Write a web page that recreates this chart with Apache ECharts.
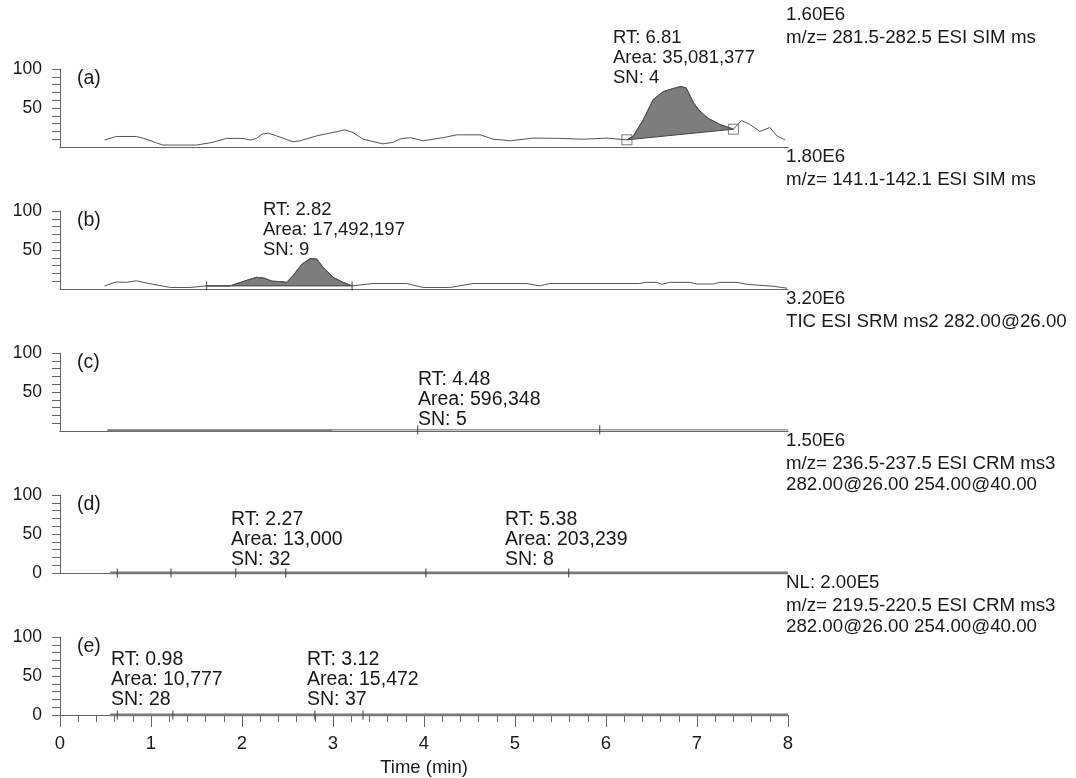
<!DOCTYPE html>
<html>
<head>
<meta charset="utf-8">
<script src="https://cdn.jsdelivr.net/npm/echarts@6/dist/echarts.min.js"></script>
<style>
  html, body { margin: 0; padding: 0; background: #fff; }
  #chart { width: 1076px; height: 778px; }
</style>
</head>
<body>
<div id="chart"></div>
<script>
  // ---- data (time in min, relative abundance in %) ----
  var traceA = [[0.49,9],[0.62,13.5],[0.84,13.5],[0.92,11],[1.13,2.5],[1.50,2.5],[1.68,6],[1.83,11],[2.01,11],
    [2.09,9],[2.16,11],[2.22,16.5],[2.29,17.7],[2.38,14.3],[2.56,6.7],[2.64,8],[2.82,14.3],[3.00,18.6],[3.13,22],
    [3.22,18.6],[3.33,10],[3.55,4],[3.66,6],[3.74,10.5],[3.85,12],[3.99,8],[4.21,12],[4.36,15.6],[4.62,15.6],
    [4.76,10],[4.95,8],[5.20,11.4],[5.49,11],[5.75,10],[6.01,11.4],[6.23,9.2],[6.30,14],[6.41,35],[6.52,61],
    [6.63,71],[6.74,75],[6.82,77.5],[6.88,76],[6.96,57],[7.03,46],[7.12,37],[7.25,29],[7.40,22.8],[7.49,34],
    [7.58,29],[7.69,20],[7.80,25],[7.88,14],[7.97,9]]
  var peakRangeA = [6.23, 7.40]
  var peakEndsA = [[6.23,9.2],[7.40,22.8]]

  var traceB = [[0.49,4],[0.62,9],[0.73,8.5],[0.84,10.5],[0.95,7.7],[1.21,2],[1.43,2],[1.61,4],[1.87,4],[2.01,9.5],
    [2.16,15],[2.25,13.7],[2.33,10],[2.42,9.5],[2.49,8.5],[2.56,17],[2.66,32],[2.75,39],[2.82,38.5],[2.89,28],
    [3.00,15],[3.11,8.5],[3.21,4],[3.44,7],[3.81,7],[3.99,2],[4.29,2],[4.54,7],[5.13,7],[5.27,4],[5.38,7],
    [6.37,7],[6.43,8.5],[6.56,8.5],[6.61,6],[6.70,8.5],[6.92,8.5],[7.00,6.4],[7.18,6.4],[7.25,8.5],[7.44,8.5],
    [7.55,6],[7.66,5],[7.84,3.5],[7.99,1]]
  var peakRangeB = [1.61, 3.21]
  var boundsB = [[1.61,4],[3.21,4]]

  var traceC1 = [[0.52,0.6],[2.99,0.6]]
  var traceC2 = [[2.99,1.5],[8,1.5]]
  var boundsC = [[3.93,1.5],[5.93,1.5]]

  var traceD = [[0.55,0],[8,0]]
  var boundsD = [[0.63,0],[1.22,0],[1.93,0],[2.48,0],[4.02,0],[5.59,0]]

  var traceE = [[0.55,0],[8,0]]
  var boundsE = [[0.63,0],[1.24,0],[2.80,0],[3.33,0]]

  var panelTags = ['(a)', '(b)', '(c)', '(d)', '(e)']
  var scanInfo = [
    ['1.60E6', 'm/z= 281.5-282.5 ESI SIM ms'],
    ['1.80E6', 'm/z= 141.1-142.1 ESI SIM ms'],
    ['3.20E6', 'TIC ESI SRM ms2 282.00@26.00'],
    ['1.50E6', 'm/z= 236.5-237.5 ESI CRM ms3', '282.00@26.00 254.00@40.00'],
    ['NL: 2.00E5', 'm/z= 219.5-220.5 ESI CRM ms3', '282.00@26.00 254.00@40.00']
  ]
  var peakNotes = [
    [['RT: 6.81', 'Area: 35,081,377', 'SN: 4']],
    [['RT: 2.82', 'Area: 17,492,197', 'SN: 9']],
    [['RT: 4.48', 'Area: 596,348', 'SN: 5']],
    [['RT: 2.27', 'Area: 13,000', 'SN: 32'], ['RT: 5.38', 'Area: 203,239', 'SN: 8']],
    [['RT: 0.98', 'Area: 10,777', 'SN: 28'], ['RT: 3.12', 'Area: 15,472', 'SN: 37']]
  ]
  var timeTicks = [0, 1, 2, 3, 4, 5, 6, 7, 8]
  var yLabelsTop = [50, 100]
  var yLabelsZero = [0, 50, 100]

  // ---- layout ----
  var FONT = '"Liberation Sans", Arial, Helvetica, sans-serif'
  var TXT = '#1a1a1a'
  var AX = '#666'
  var LINE = '#555'
  var FILL = '#7d7d7d'
  var tops = [69, 211, 353, 495, 637]
  var panelH = 78
  var noteX = [[613], [263], [418], [231, 505], [111, 307]]
  var noteDy = [-31, -1, 27, 25, 23]
  var noteSize = [18.5, 18.5, 19.5, 19.5, 19.5]

  var chart = echarts.init(document.getElementById('chart'))

  var grids = [], xAxes = [], yAxes = [], series = [], graphics = []

  tops.forEach(function (top, i) {
    var last = i === 4
    grids.push({ left: 60, right: 288, top: top, height: panelH })
    xAxes.push({
      gridIndex: i, type: 'value', min: 0, max: 8, interval: 1,
      axisLine: { show: true, onZero: false, lineStyle: { color: AX, width: 1.2 } },
      axisTick: { show: last, length: 12, lineStyle: { color: AX } },
      minorTick: { show: last, splitNumber: 5, length: 7, lineStyle: { color: AX } },
      axisLabel: { show: last, margin: 19, fontSize: 18.5, color: TXT, fontFamily: FONT, customValues: timeTicks },
      splitLine: { show: false },
      name: last ? 'Time (min)' : '', nameLocation: 'middle', nameGap: 43,
      nameTextStyle: { fontSize: 18.5, color: TXT, fontFamily: FONT }
    })
    var labs = i >= 3 ? yLabelsZero : yLabelsTop
    yAxes.push({
      gridIndex: i, type: 'value', min: 0, max: 100, interval: 50,
      axisLine: { show: true, lineStyle: { color: AX, width: 1 } },
      axisTick: { show: true, length: 8, customValues: labs, lineStyle: { color: AX } },
      minorTick: { show: true, splitNumber: 5, length: 8, lineStyle: { color: AX } },
      axisLabel: { margin: 18, fontSize: 17.5, color: TXT, fontFamily: FONT, customValues: labs },
      splitLine: { show: false }
    })
  })

  function trace(i, data, width, color) {
    series.push({
      type: 'line', xAxisIndex: i, yAxisIndex: i, data: data, symbol: 'none', silent: true,
      lineStyle: { color: color || LINE, width: width || 1 }, z: 3
    })
  }
  function peakFill(i, data, range) {
    var pts = data.filter(function (p) { return p[0] >= range[0] && p[0] <= range[1] })
    series.push({
      type: 'custom', xAxisIndex: i, yAxisIndex: i, data: [0], silent: true, z: 2,
      renderItem: function (params, api) {
        return {
          type: 'polygon',
          shape: { points: pts.map(function (p) { return api.coord(p) }) },
          style: { fill: FILL, stroke: '#444', lineWidth: 1 }
        }
      }
    })
  }
  function bounds(i, data) {
    series.push({
      type: 'scatter', xAxisIndex: i, yAxisIndex: i, data: data, symbol: 'rect',
      symbolSize: [1.3, 9], itemStyle: { color: '#444' }, silent: true, z: 4
    })
  }

  peakFill(0, traceA, peakRangeA)
  trace(0, traceA)
  series.push({
    type: 'scatter', xAxisIndex: 0, yAxisIndex: 0, data: peakEndsA, symbol: 'rect', symbolSize: 10,
    itemStyle: { color: 'rgba(0,0,0,0)', borderColor: '#555', borderWidth: 1 }, silent: true, z: 5
  })

  peakFill(1, traceB, peakRangeB)
  trace(1, traceB)
  bounds(1, boundsB)

  trace(2, traceC1, 2.5, '#777')
  trace(2, traceC2, 1, '#666')
  bounds(2, boundsC)

  trace(3, traceD, 3, '#7a7a7a')
  bounds(3, boundsD)

  trace(4, traceE, 3, '#7a7a7a')
  bounds(4, boundsE)

  function txt(x, y, s, size) {
    graphics.push({
      type: 'text', x: x, y: y, silent: true,
      style: { text: s, fill: TXT, font: (size || 16) + 'px ' + FONT, verticalAlign: 'middle' }
    })
  }

  tops.forEach(function (top, i) {
    txt(77, top + 10, panelTags[i], 19.5)
    var y0 = top - 54
    scanInfo[i].forEach(function (s, k) {
      txt(786, y0 + (k === 0 ? 0 : 22.5 + (k - 1) * 21), s, 18.7)
    })
    peakNotes[i].forEach(function (note, n) {
      note.forEach(function (s, k) {
        txt(noteX[i][n], top + noteDy[i] + k * 20, s, noteSize[i])
      })
    })
  })

  chart.setOption({
    animation: false,
    backgroundColor: '#fff',
    grid: grids,
    xAxis: xAxes,
    yAxis: yAxes,
    series: series,
    graphic: graphics
  })
</script>
</body>
</html>
